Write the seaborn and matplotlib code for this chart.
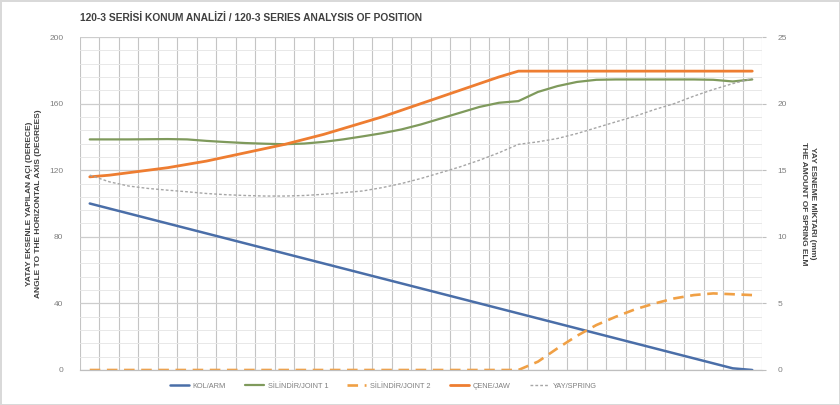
import numpy as np
import pandas as pd
import matplotlib
matplotlib.use("Agg")
import matplotlib.pyplot as plt
from matplotlib.ticker import MultipleLocator
import seaborn as sns

# ---- data ----
steps = list(range(35))
kol_arm = [100, 97, 94, 91, 88, 85, 82, 79, 76, 73, 70, 67, 64, 61, 58, 55, 52, 49,
           46, 43, 40, 37, 34, 31, 28, 25, 22, 19, 16, 13, 10, 7, 4, 1, 0]
joint1 = [138.5, 138.5, 138.5, 138.6, 138.7, 138.5, 137.6, 136.9, 136.3, 135.9, 135.6,
          136.0, 137.0, 138.5, 140.3, 142.2, 144.5, 147.5, 151.0, 154.5, 158.0, 160.5,
          161.5, 167.0, 170.5, 173.0, 174.3, 174.5, 174.5, 174.5, 174.5, 174.5, 174.3,
          173.3, 174.5]
joint2 = [0, 0, 0, 0, 0, 0, 0, 0, 0, 0, 0, 0, 0, 0, 0, 0, 0, 0, 0, 0, 0, 0, 0,
          5, 13, 20.5, 27, 32, 36.5, 40, 43, 45, 46, 45.5, 45]
jaw = [116, 117, 118.5, 120, 121.5, 123.5, 125.5, 128, 130.5, 133, 135.5, 138.5, 141.5,
       145, 148.5, 152, 156, 160, 164, 168, 172, 176, 179.5, 179.5, 179.5, 179.5, 179.5,
       179.5, 179.5, 179.5, 179.5, 179.5, 179.5, 179.5, 179.5]
spring = [14.63, 14.13, 13.81, 13.63, 13.50, 13.38, 13.25, 13.16, 13.10, 13.06, 13.06,
          13.10, 13.19, 13.31, 13.44, 13.69, 14.00, 14.38, 14.81, 15.25, 15.75, 16.31,
          16.94, 17.13, 17.38, 17.75, 18.19, 18.63, 19.06, 19.56, 20.00, 20.56, 21.06,
          21.50, 21.88]

labels = ["KOL/ARM", "SİLİNDİR/JOINT 1", "SİLİNDİR/JOINT 2", "ÇENE/JAW", "YAY/SPRING"]
title = "120-3 SERİSİ KONUM ANALİZİ / 120-3 SERIES ANALYSIS OF POSITION"
left_label = "YATAY EKSENLE YAPILAN AÇI (DERECE)\nANGLE TO THE HORIZONTAL AXIS (DEGREES)"
right_label = "YAY ESNEME MİKTARI (mm)\nTHE AMOUNT OF SPRING ELM"

df = pd.DataFrame({"step": steps, "kol": kol_arm, "j1": joint1, "j2": joint2,
                   "jaw": jaw, "spring": spring})

sns.set_style("white")
plt.rcParams["font.family"] = ["Liberation Sans", "DejaVu Sans"]

fig = plt.figure(figsize=(8.4, 4.05), dpi=100)
fig.patch.set_edgecolor("#d9d9d9")
fig.patch.set_linewidth(2)
ax = fig.add_axes([80/840, 1-370/405, 682/840, 333/405])
ax2 = ax.twinx()

c_blue = "#4a6ea8"
c_green = "#7f9a5c"
c_orange = "#ee7d31"
c_orange2 = "#f0a045"
c_gray = "#a6a6a6"

sns.lineplot(data=df, x="step", y="kol", ax=ax, color=c_blue, linewidth=1.8, label=labels[0], legend=False)
sns.lineplot(data=df, x="step", y="j1", ax=ax, color=c_green, linewidth=1.6, label=labels[1], legend=False)
sns.lineplot(data=df, x="step", y="j2", ax=ax, color=c_orange2, linewidth=1.9, label=labels[2], legend=False,
             linestyle=(0, (4, 2.5)))
sns.lineplot(data=df, x="step", y="jaw", ax=ax, color=c_orange, linewidth=2.0, label=labels[3], legend=False)
sns.lineplot(data=df, x="step", y="spring", ax=ax2, color=c_gray, linewidth=1.0, label=labels[4], legend=False,
             linestyle=(0, (2, 1.5)))

ax.set_xlim(-0.5, 34.5)
ax.set_ylim(0, 200)
ax2.set_ylim(0, 25)
ax.yaxis.set_major_locator(MultipleLocator(40))
ax.yaxis.set_minor_locator(MultipleLocator(8))
ax2.yaxis.set_major_locator(MultipleLocator(5))
ax.set_xticks(np.arange(-0.5, 35, 1))
ax.set_xticklabels([])
ax.tick_params(axis="x", length=0)

ax.grid(which="major", axis="y", color="#cdcdcd", linewidth=0.9)
ax.grid(which="minor", axis="y", color="#e8e8e8", linewidth=0.7)
ax.grid(which="major", axis="x", color="#c4c4c4", linewidth=0.8)
ax.set_axisbelow(True)

for a in (ax, ax2):
    for s in ("top", "left", "right"):
        a.spines[s].set_visible(False)
    a.spines["bottom"].set_color("#bfbfbf")
    a.set_xlabel("")

ax.tick_params(axis="y", which="both", length=0, labelsize=6, labelcolor="#7f7f7f", pad=12)
ax2.tick_params(axis="y", which="both", length=3, color="#bfbfbf", labelsize=6, labelcolor="#7f7f7f", pad=8)
ax2.spines["right"].set_visible(False)

ax.set_ylabel(left_label, fontsize=6, fontweight="bold", color="#404040", labelpad=5, linespacing=1.4)
ax2.set_ylabel(right_label, fontsize=6, fontweight="bold", color="#404040", rotation=270,
               labelpad=22, linespacing=1.4)

fig.text(80/840, 1-18/405, title, fontsize=7.4, fontweight="bold", color="#404040",
         ha="left", va="center")

h1, l1 = ax.get_legend_handles_labels()
h2, l2 = ax2.get_legend_handles_labels()
fig.legend(h1 + h2, l1 + l2, loc="center", bbox_to_anchor=(383/840, 1-386/405), ncol=5,
           frameon=False, fontsize=5.3, labelcolor="#7f7f7f", handlelength=2.6,
           columnspacing=2.6, handletextpad=0.5)

fig.savefig("out.png", dpi=100)
